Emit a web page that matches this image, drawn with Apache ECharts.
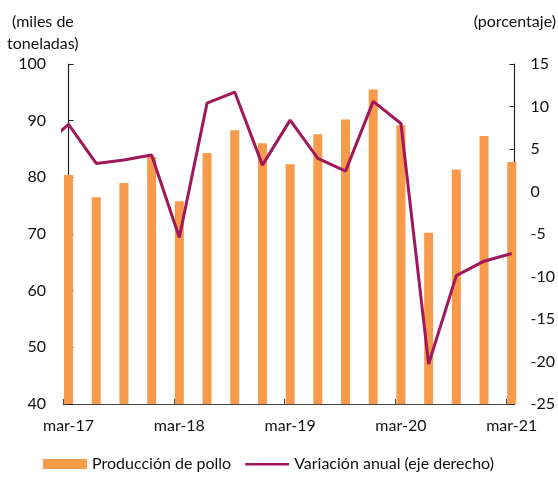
<!DOCTYPE html>
<html>
<head>
<meta charset="utf-8">
<script src="https://cdn.jsdelivr.net/npm/echarts@6/dist/echarts.min.js"></script>
<style>
  html, body { margin: 0; padding: 0; background: #fff; }
  #chart { width: 558px; height: 478px; }
</style>
</head>
<body>
<div id="chart"></div>
<script>
// trimestres (eje x)
var quarters = ["mar-17", "jun-17", "sep-17", "dic-17", "mar-18", "jun-18", "sep-18", "dic-18",
  "mar-19", "jun-19", "sep-19", "dic-19", "mar-20", "jun-20", "sep-20", "dic-20", "mar-21"];
// producción de pollo (miles de toneladas)
var produccion = [80.4, 76.5, 79.0, 83.6, 75.8, 84.3, 88.3, 86.0,
  82.3, 87.6, 90.2, 95.5, 89.2, 70.2, 81.4, 87.3, 82.7];
// variación anual (%), el primer valor es dic-16
var variacion = [5.0, 7.9, 3.3, 3.7, 4.3, -5.4, 10.4, 11.7, 3.1,
  8.4, 3.9, 2.4, 10.6, 8.0, -20.3, -9.9, -8.2, -7.3];
var leftTicks = [40, 100, 10];
var rightTicks = [-25, 15, 5];

var font = "Lato, 'Liberation Sans', sans-serif";
var barData = produccion.map(function (v, i) { return [i, v]; });
var lineData = variacion.map(function (v, i) { return [i - 1, v]; });

var chart = echarts.init(document.getElementById("chart"));
chart.setOption({
  animation: false,
  textStyle: { fontFamily: font },
  grid: { left: 63, right: 42, top: 64, bottom: 74 },
  graphic: [
    { type: "text", left: 12, top: 14, style: { text: "(miles de", font: "16px " + font, fill: "#111" } },
    { type: "text", left: 7, top: 36, style: { text: "toneladas)", font: "16px " + font, fill: "#111" } },
    { type: "text", right: 2, top: 14, style: { text: "(porcentaje)", font: "16px " + font, fill: "#111" } }
  ],
  legend: {
    bottom: 1,
    left: 38,
    itemWidth: 44,
    itemHeight: 10,
    itemGap: 14,
    textStyle: { fontSize: 16, color: "#111", fontFamily: font },
    data: [
      { name: "Producción de pollo", icon: "rect" },
      { name: "Variación anual (eje derecho)", icon: "path://M0,0 L0,0 M0,4 L44,4 L44,6.5 L0,6.5 Z M44,10 L44,10" }
    ]
  },
  xAxis: {
    type: "value",
    min: -0.2,
    max: 16.1,
    splitLine: { show: false },
    axisLine: { show: true, onZero: false, lineStyle: { color: "#444", width: 1.2 } },
    axisTick: {
      show: true, inside: true, length: 5,
      customValues: [-0.2, 3.8, 7.8, 11.8, 15.8],
      lineStyle: { color: "#444" }
    },
    axisLabel: {
      customValues: [0, 4, 8, 12, 16],
      formatter: function (v) { return quarters[Math.round(v)] || ""; },
      fontSize: 16, color: "#111", margin: 14
    }
  },
  yAxis: [
    {
      type: "value",
      min: leftTicks[0], max: leftTicks[1], interval: leftTicks[2],
      splitLine: { show: false },
      axisLine: { show: true, lineStyle: { color: "#222", width: 1.2 } },
      axisTick: { show: true, inside: true, length: 5, lineStyle: { color: "#222" } },
      axisLabel: { fontSize: 16, color: "#111", margin: 17 }
    },
    {
      type: "value",
      min: rightTicks[0], max: rightTicks[1], interval: rightTicks[2],
      splitLine: { show: false },
      axisLine: { show: true, lineStyle: { color: "#222", width: 1.2 } },
      axisTick: { show: true, inside: true, length: 5, lineStyle: { color: "#222" } },
      axisLabel: { fontSize: 16, color: "#111", margin: 16 }
    }
  ],
  series: [
    {
      name: "Producción de pollo",
      type: "bar",
      barWidth: 9,
      clip: true,
      itemStyle: { color: "#F79B4B" },
      data: barData
    },
    {
      name: "Variación anual (eje derecho)",
      type: "line",
      yAxisIndex: 1,
      symbol: "none",
      clip: true,
      lineStyle: { color: "#A0185A", width: 3 },
      itemStyle: { color: "#A0185A" },
      data: lineData
    }
  ]
});
</script>
</body>
</html>
